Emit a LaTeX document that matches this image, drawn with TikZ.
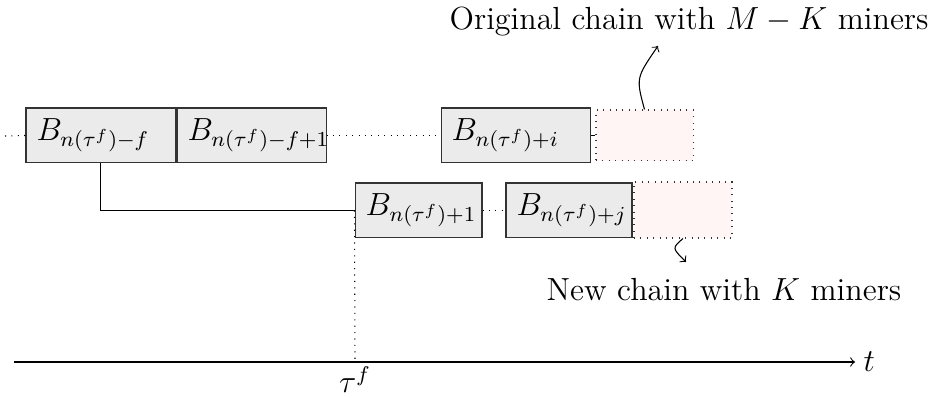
\documentclass[tikz,border=0pt,12pt]{standalone}
\begin{document}
\begin{tikzpicture}[x=0.375pt,y=-0.375pt,
  blk/.style={draw=black!80,fill=black!8,minimum height=20.6pt,inner xsep=4pt,inner ysep=0pt,align=left},
  pend/.style={draw=black!80,dotted,fill=red!4,inner sep=0pt},
  lbl/.style={inner sep=0pt}]
\useasboundingbox (0,0) rectangle (930,398);
% top chain
\node[blk,text width=47.9pt] (b1) at (100.5,135.5) {$B_{n(\tau^f)-f}$};
\node[blk,text width=47.9pt] (b2) at (251.5,135.5) {$B_{n(\tau^f)-f+1}$};
\node[blk,text width=48.2pt] (b3) at (516,135.5) {$B_{n(\tau^f)+i}$};
\node[pend,minimum width=36.4pt,minimum height=19.1pt] (p1) at (644.5,135.5) {};
% bottom chain
\node[blk,text width=39.6pt] (b4) at (418.5,210.5) {$B_{n(\tau^f)+1}$};
\node[blk,text width=39.25pt] (b5) at (569,210.5) {$B_{n(\tau^f)+j}$};
\node[pend,minimum width=36.75pt,minimum height=21pt] (p2) at (683,210) {};
% connectors
\coordinate (s0) at (5,136);
\draw[dotted] (s0) -- (b1.west);
\draw[dotted] (b2.east) -- (b3.west);
\draw (b3.east) -- (p1.west);
\draw (b1.south) |- (b4.west);
\draw[dotted] (b4.east) -- (b5.west);
% labels
\node[lbl,anchor=east] (lo) at (929,22) {Original chain with $M-K$ miners};
\coordinate (lo1) at (658,46);
\draw[->] (p1.north) .. controls (636,78) .. (lo1);
\node[lbl] (ln) at (724,290) {New chain with $K$ miners};
\coordinate (ln1) at (686,262);
\draw[->] (p2.south) .. controls (672,248) .. (ln1);
% time axis
\coordinate (a0) at (14,362);
\coordinate (a1) at (855,362);
\draw[->] (a0) -- (a1) node[right,inner sep=3pt] (t) {$t$};
\coordinate (tf) at (355,362);
\draw[dotted] (b4.west) -- (tf);
\node[below=1.5pt,inner sep=0pt] (tau) at (tf) {$\tau^f$};
\end{tikzpicture}
\end{document}
